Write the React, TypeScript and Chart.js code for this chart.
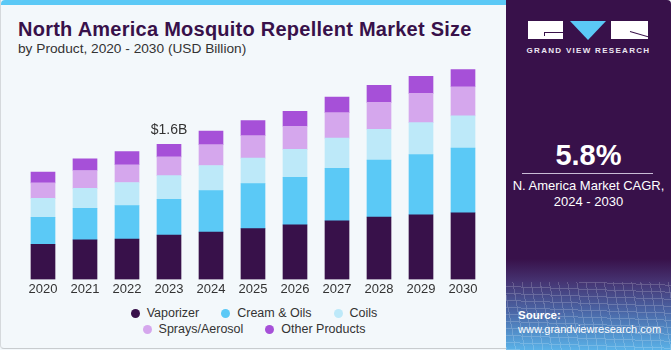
import React, { useEffect, useRef } from "react";
import { Chart, registerables } from "chart.js";

Chart.register(...registerables);

const categories = ["2020", "2021", "2022", "2023", "2024", "2025", "2026", "2027", "2028", "2029", "2030"];
const vaporizer = [0.418, 0.469, 0.478, 0.525, 0.561, 0.604, 0.648, 0.696, 0.74, 0.768, 0.792];
const creamOils = [0.318, 0.374, 0.398, 0.425, 0.493, 0.534, 0.565, 0.624, 0.676, 0.716, 0.768];
const coils = [0.227, 0.239, 0.275, 0.283, 0.299, 0.302, 0.331, 0.358, 0.367, 0.379, 0.382];
const sprays = [0.184, 0.211, 0.211, 0.223, 0.247, 0.267, 0.275, 0.303, 0.319, 0.346, 0.346];
const otherProducts = [0.127, 0.14, 0.155, 0.147, 0.162, 0.179, 0.176, 0.186, 0.203, 0.203, 0.203];

const seriesNames = ["Vaporizer", "Cream & Oils", "Coils", "Sprays/Aerosol", "Other Products"];
const seriesColors = ["#38114A", "#5BC9F6", "#BDE9F9", "#D5A7ED", "#A650D8"];

const annotationIndex = 3;
const annotationLabel = "$1.6B";

const FONT = "'Liberation Sans', Arial, sans-serif";

const totalLabelPlugin = {
  id: "totalLabel",
  afterDatasetsDraw(chart: any) {
    const meta = chart.getDatasetMeta(chart.data.datasets.length - 1);
    const bar = meta.data[annotationIndex];
    if (!bar) return;
    const ctx = chart.ctx;
    ctx.save();
    ctx.font = `14px ${FONT}`;
    ctx.fillStyle = "#333333";
    ctx.textAlign = "center";
    ctx.textBaseline = "middle";
    ctx.fillText(annotationLabel, bar.x, bar.y - 14);
    ctx.restore();
  },
};

function BarChart() {
  const ref = useRef<HTMLCanvasElement | null>(null);
  useEffect(() => {
    if (!ref.current) return;
    const all = [vaporizer, creamOils, coils, sprays, otherProducts];
    const chart = new Chart(ref.current, {
      type: "bar",
      data: {
        labels: categories,
        datasets: all.map((d, i) => ({
          label: seriesNames[i],
          data: d,
          backgroundColor: seriesColors[i],
          borderWidth: 0,
          barThickness: 24,
        })),
      },
      options: {
        responsive: false,
        animation: false,
        devicePixelRatio: 1,
        layout: { padding: { top: 10.5, bottom: 1, left: 22, right: 16 } },
        plugins: { legend: { display: false }, tooltip: { enabled: false } },
        scales: {
          x: {
            stacked: true,
            grid: { display: false, drawTicks: false },
            border: { display: false },
            ticks: { color: "#333333", font: { family: FONT, size: 13 }, padding: 2 },
          },
          y: {
            stacked: true,
            display: false,
            min: 0,
            max: 2.6,
          },
        },
      },
      plugins: [totalLabelPlugin],
    });
    return () => chart.destroy();
  }, []);
  return (
    <canvas
      ref={ref}
      width={500}
      height={250}
      style={{ position: "absolute", left: 0, top: 50, width: 500, height: 250 }}
    />
  );
}

function Legend() {
  const rows = [[0, 1, 2], [3, 4]];
  return (
    <div style={{ position: "absolute", left: 0, top: 305, width: 508 }}>
      {rows.map((r, ri) => (
        <div
          key={ri}
          style={{ display: "flex", justifyContent: "center", height: 16, alignItems: "center" }}
        >
          {r.map((i) => (
            <div key={i} style={{ display: "flex", alignItems: "center", margin: "0 11px" }}>
              <span
                style={{
                  width: 9,
                  height: 9,
                  borderRadius: "50%",
                  background: seriesColors[i],
                  display: "inline-block",
                  marginRight: 7,
                }}
              />
              <span style={{ fontFamily: FONT, fontSize: 12.5, color: "#333333" }}>{seriesNames[i]}</span>
            </div>
          ))}
        </div>
      ))}
    </div>
  );
}

function SidePanel() {
  return (
    <div
      style={{
        position: "absolute",
        left: 506,
        top: 0,
        width: 165,
        height: 350,
        borderTopRightRadius: 4,
        overflow: "hidden",
        background:
          "linear-gradient(to bottom, #38114A 0%, #38114A 74%, #45316f 80%, #4a66a6 89%, #5ab2e8 100%)",
        fontFamily: FONT,
        color: "#ffffff",
      }}
    >
      <div
        style={{
          position: "absolute",
          left: 0,
          top: 282,
          width: 165,
          height: 68,
          opacity: 0.2,
          backgroundImage:
            "repeating-linear-gradient(80deg, rgba(255,255,255,0.9) 0px, rgba(255,255,255,0.9) 1px, transparent 1px, transparent 9px), repeating-linear-gradient(2deg, rgba(255,255,255,0.9) 0px, rgba(255,255,255,0.9) 1px, transparent 1px, transparent 7px)",
        }}
      />
      {/* logo */}
      <div style={{ position: "absolute", left: 22, top: 21, width: 35, height: 18, background: "#ffffff" }}>
        <div style={{ position: "absolute", left: 16, top: 11, width: 19, height: 1, background: "#38114A" }} />
        <div style={{ position: "absolute", left: 16, top: 11, width: 1, height: 4, background: "#38114A" }} />
      </div>
      <div
        style={{
          position: "absolute",
          left: 64,
          top: 21,
          width: 0,
          height: 0,
          borderLeft: "18px solid transparent",
          borderRight: "18px solid transparent",
          borderTop: "19px solid #5BC9F6",
        }}
      />
      <div style={{ position: "absolute", left: 105, top: 21, width: 37, height: 18, background: "#ffffff", overflow: "hidden" }}>
        <div
          style={{
            position: "absolute",
            left: 19,
            top: 10,
            width: 22,
            height: 1,
            background: "#38114A",
            transform: "rotate(16deg)",
            transformOrigin: "left center",
          }}
        />
      </div>
      <div
        style={{
          position: "absolute",
          left: 0,
          width: 165,
          top: 46,
          textAlign: "center",
          fontSize: 8,
          fontWeight: "bold",
          letterSpacing: 1.3,
          color: "#ece6f2",
        }}
      >
        GRAND VIEW RESEARCH
      </div>
      <div
        style={{
          position: "absolute",
          left: 0,
          width: 165,
          top: 139,
          textAlign: "center",
          fontSize: 29,
          fontWeight: "bold",
        }}
      >
        5.8%
      </div>
      <div style={{ position: "absolute", left: 16, top: 173, width: 131, height: 1, background: "#c9bcd6" }} />
      <div
        style={{
          position: "absolute",
          left: 0,
          width: 165,
          top: 178,
          textAlign: "center",
          fontSize: 13,
          lineHeight: "16px",
        }}
      >
        N. America Market CAGR,
        <br />
        2024 - 2030
      </div>
      <div style={{ position: "absolute", left: 12, top: 309, fontSize: 11.5, fontWeight: "bold" }}>Source:</div>
      <div style={{ position: "absolute", left: 12, top: 323, fontSize: 11 }}>www.grandviewresearch.com</div>
    </div>
  );
}

export default function App() {
  return (
    <div
      style={{
        position: "fixed",
        left: 0,
        top: 0,
        width: 671,
        height: 350,
        background: "#F3F8FB",
        overflow: "hidden",
      }}
    >
      <div
        style={{
          position: "absolute",
          left: 0,
          top: 0,
          width: 506,
          height: 349,
          borderLeft: "1px solid #d5d9dc",
          borderBottom: "1px solid #c8cccf",
          boxSizing: "border-box",
          borderBottomLeftRadius: 4,
        }}
      />
      <div
        style={{
          position: "absolute",
          left: 1,
          top: 0,
          width: 505,
          height: 5,
          background: "#5BC9F6",
          borderTopLeftRadius: 4,
        }}
      />
      <div
        style={{
          position: "absolute",
          left: 18,
          top: 18,
          fontFamily: FONT,
          fontSize: 20,
          fontWeight: "bold",
          letterSpacing: 0.25,
          color: "#38114A",
          whiteSpace: "nowrap",
        }}
      >
        North America Mosquito Repellent Market Size
      </div>
      <div
        style={{
          position: "absolute",
          left: 18,
          top: 41,
          fontFamily: FONT,
          fontSize: 13.7,
          color: "#333333",
          whiteSpace: "nowrap",
        }}
      >
        by Product, 2020 - 2030 (USD Billion)
      </div>
      <BarChart />
      <Legend />
      <SidePanel />
    </div>
  );
}
